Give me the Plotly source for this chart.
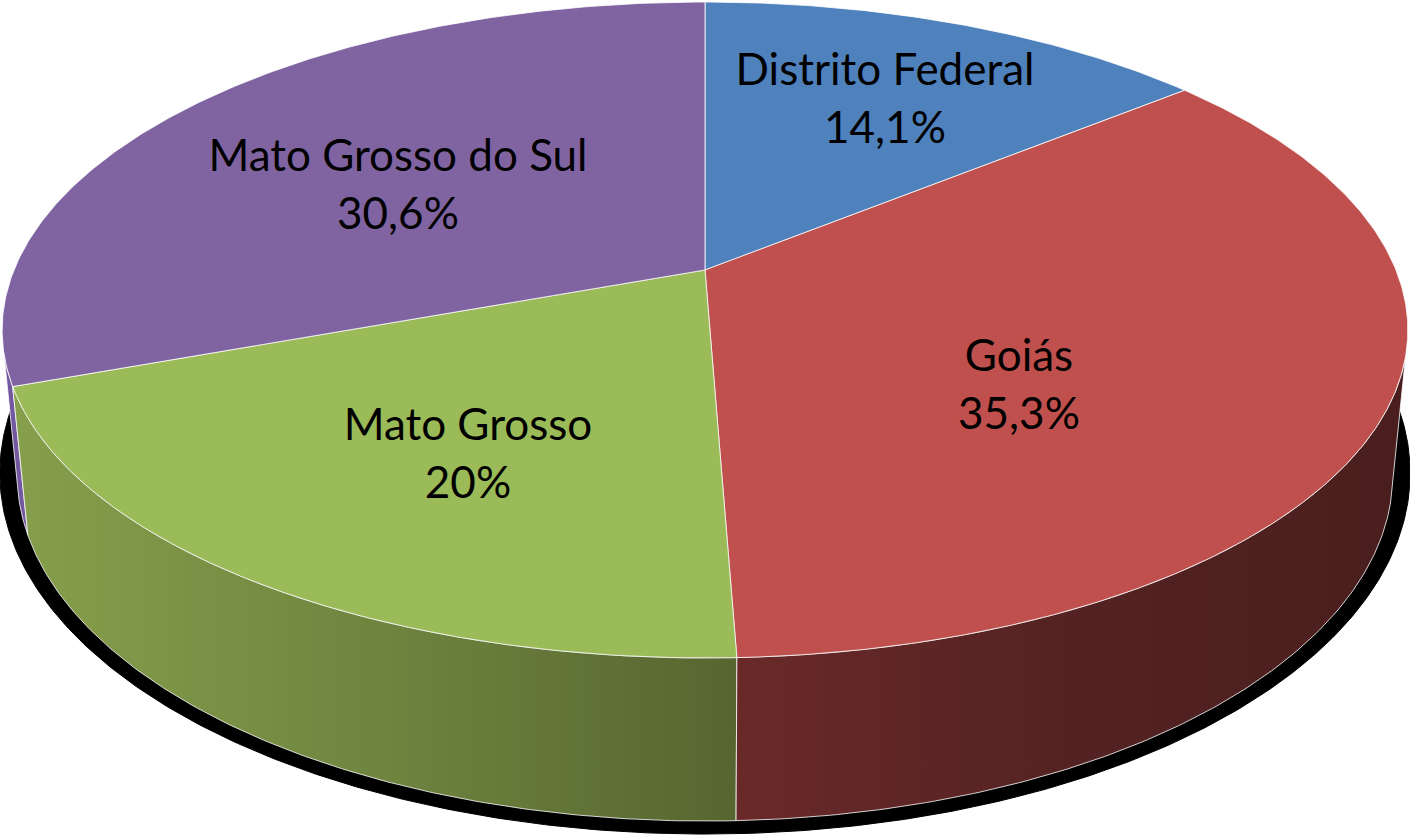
import math
import numpy as np
import plotly.graph_objects as go

# ---- data ----
categories = ["Distrito Federal", "Goiás", "Mato Grosso", "Mato Grosso do Sul"]
values = [14.1, 35.3, 20, 30.6]
top_colors = ["#4F81BD", "#C0504D", "#9BBB59", "#8064A2"]
label_x = [885, 1019, 468, 398]
label_y = [103, 389, 458, 189]

# ---- perspective projection of the unit disc onto the page ----
CX, CY = 705.0, 270.0
A, B, K = 691.0, 267.6, -0.1829
E, M = 150.5, 0.021
SHADOW_CX, SHADOW_CY, SHADOW_SX, SHADOW_SY = 705.0, 495.0, 1.025, 1.04
SIL_RIGHT, SIL_LEFT = 105.0, 258.0  # silhouette angles of the disc edge


def project(theta_deg, z=0.0, r=1.0):
    t = np.radians(theta_deg)
    X, Y = r * np.sin(t), -r * np.cos(t)
    w = 1 + K * Y + M * z
    return CX + A * X / w, (CY + B * Y + E * z) / w


def arc(a0, a1, z=0.0):
    n = max(2, int(abs(a1 - a0) * 2) + 1)
    return project(np.linspace(a0, a1, n), z)


EDGE = dict(color="rgba(255,255,255,0.8)", width=1)
fig = go.Figure()


def side(a0, a1, **kw):
    tx, ty = arc(a0, a1, 0.0)
    bx, by = arc(a1, a0, 1.0)
    fig.add_trace(go.Scatter(
        x=np.r_[tx, bx, tx[0]], y=np.r_[ty, by, ty[0]], mode="lines", fill="toself",
        line=EDGE, hoverinfo="skip", showlegend=False, **kw))


cum = np.cumsum([0] + values) * 3.6
start = dict(zip(categories, cum[:-1]))
stop = dict(zip(categories, cum[1:]))

# shadow
sx, sy = arc(0, 360, 1.0)
fig.add_trace(go.Scatter(
    x=SHADOW_CX + (sx - SHADOW_CX) * SHADOW_SX,
    y=SHADOW_CY + (sy - SHADOW_CY) * SHADOW_SY,
    mode="lines", fill="toself", fillcolor="#000000",
    line=dict(color="#000000", width=1), hoverinfo="skip", showlegend=False))

# outer walls
side(stop["Mato Grosso"], SIL_LEFT, fillcolor="#7358A0")
side(start["Mato Grosso"], stop["Mato Grosso"],
     fillgradient=dict(type="horizontal",
                       colorscale=[[0, "#869F4C"], [0.5, "#6F853F"], [1, "#566630"]]))
side(SIL_RIGHT, stop["Goiás"],
     fillgradient=dict(type="horizontal",
                       colorscale=[[0, "#6A2929"], [0.5, "#542222"], [1, "#4A1E1E"]]))

# top faces
for cat, col in zip(categories, top_colors):
    ax, ay = arc(start[cat], stop[cat])
    fig.add_trace(go.Scatter(
        x=np.r_[CX, ax, CX], y=np.r_[CY, ay, CY], mode="lines", fill="toself",
        fillcolor=col, line=EDGE, hoverinfo="skip", showlegend=False))

# labels
labels = [f"{c}<br>{v:g}%".replace(".", ",") for c, v in zip(categories, values)]
fig.add_trace(go.Scatter(
    x=label_x, y=label_y, mode="text", text=labels, textposition="middle center",
    textfont=dict(family="Lato, Carlito, sans-serif", size=44, color="#000000"),
    hoverinfo="skip", showlegend=False))

fig.update_layout(
    width=1410, height=835, margin=dict(l=0, r=0, t=0, b=0),
    paper_bgcolor="#FFFFFF", plot_bgcolor="#FFFFFF",
    xaxis=dict(range=[0, 1410], visible=False, fixedrange=True),
    yaxis=dict(range=[835, 0], visible=False, fixedrange=True),
)
fig.write_html("out.html", config={"displayModeBar": False},
               post_script="document.body.style.margin='0';document.body.style.overflow='hidden';")
